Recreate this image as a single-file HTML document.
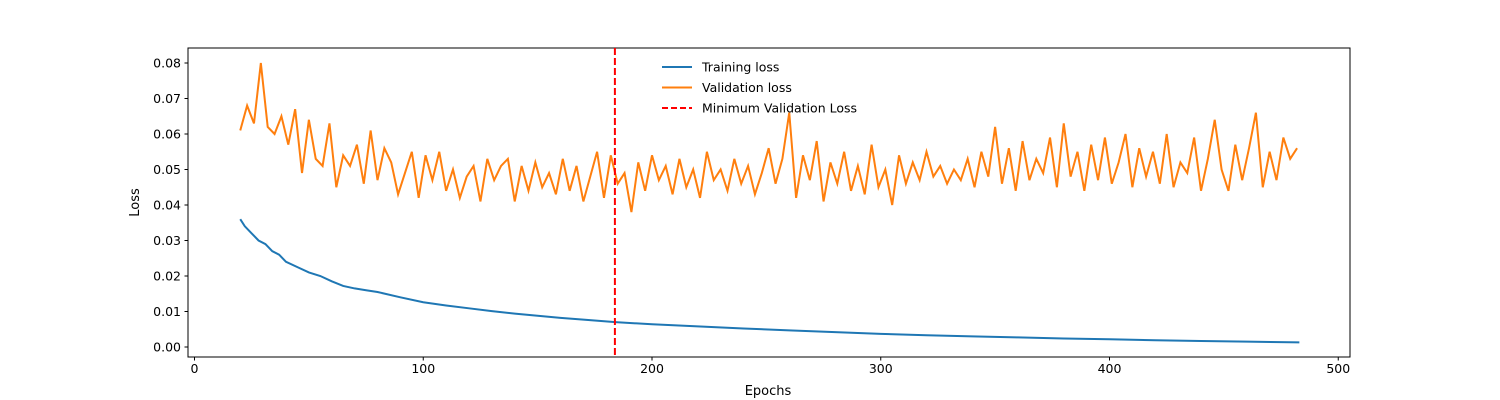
<!DOCTYPE html>
<html><head><meta charset="utf-8"><style>
html,body{margin:0;padding:0;background:#fff;}
svg{display:block;font-family:"DejaVu Sans","Liberation Sans",sans-serif;}
</style></head><body>
<svg id="chart" width="1500" height="400"></svg>
<script>
const valStart = 20, valStep = 3;
const valLoss = [61,68,63,80,62,60,65,57,67,49,64,53,51,63,45,54,51,57,46,61,47,
56,52,43,49,55,42,54,47,55,44,50,42,48,51,41,53,47,51,53,41,
51,44,52,45,49,43,53,44,51,41,48,55,42,54,46,49,38,52,44,54,
47,51,43,53,45,50,42,55,47,50,44,53,46,51,43,49,56,46,53,66,
42,54,47,58,41,52,46,55,44,51,43,57,45,50,40,54,46,52,47,55,
48,51,46,50,47,53,45,55,48,62,46,56,44,58,47,53,49,59,45,63,
48,55,44,57,47,59,46,52,60,45,56,48,55,46,60,45,52,49,59,44,
53,64,50,44,57,47,56,66,45,55,47,59,53,56].map(v=>v/1000);
const trainEpochs = [20,22,25,28,31,34,37,40,45,50,55,60,65,70,75,80,90,100,110,120,130,140,150,160,170,184,200,220,240,260,280,300,320,340,360,380,400,420,440,460,483];
const trainLoss = [0.036,0.034,0.032,0.030,0.029,0.027,0.026,0.024,0.0225,0.021,0.020,0.0185,0.0172,0.0165,0.016,0.0155,0.014,0.0126,0.0117,0.0109,0.0101,0.0094,0.0088,0.0082,0.0077,0.0070,0.0064,0.0058,0.0052,0.0047,0.0042,0.0037,0.0033,0.0030,0.0027,0.0024,0.0022,0.0019,0.0017,0.0015,0.0013];
const minEpoch = 184;
const xTicks = [0,100,200,300,400,500];
const yTicks = [0,0.01,0.02,0.03,0.04,0.05,0.06,0.07,0.08];

const L=188,R=1350,T=48,B=357;
const X=e=>194.5+e*2.2875;
const Y=v=>347-v*3550;
const svg=document.getElementById('chart');
const NS='http://www.w3.org/2000/svg';
function mk(t,a,p){const e=document.createElementNS(NS,t);for(const k in a)e.setAttribute(k,a[k]);(p||svg).appendChild(e);return e;}

const frame=mk('rect',{x:L,y:T,width:R-L,height:B-T,fill:'none',stroke:'#000','stroke-width':1});



xTicks.forEach(t=>{
  const l=mk('line',{x1:X(t),x2:X(t),y1:B,y2:B+3.5,stroke:'#000'});
  
  
  const tx=mk('text',{x:X(t),y:B+16,'text-anchor':'middle','font-size':12.5});
  tx.textContent=t;
  
  
});
yTicks.forEach(t=>{
  const l=mk('line',{x1:L-3.5,x2:L,y1:Y(t),y2:Y(t),stroke:'#000'});
  
  
  const tx=mk('text',{x:L-7,y:Y(t)+4.5,'text-anchor':'end','font-size':12.5});
  tx.textContent=t.toFixed(2);
  
  
});

const tp=mk('polyline',{points:trainEpochs.map((e,i)=>X(e)+','+Y(trainLoss[i])).join(' '),fill:'none',stroke:'#1f77b4','stroke-width':2});


const vp=mk('polyline',{points:valLoss.map((v,i)=>X(valStart+i*valStep)+','+Y(v)).join(' '),fill:'none',stroke:'#ff7f0e','stroke-width':2});


const ml=mk('line',{x1:X(minEpoch)-0.5,x2:X(minEpoch)-0.5,y1:T,y2:B,stroke:'#f00','stroke-width':2,'stroke-dasharray':'7,3'});



const xl=mk('text',{x:768,y:395,'text-anchor':'middle','font-size':13});
xl.textContent='Epochs';


const yl=mk('text',{x:139,y:(T+B)/2,'text-anchor':'middle','font-size':13,transform:'rotate(-90 139 '+((T+B)/2)+')'});
yl.textContent='Loss';



const leg=[['Training loss','#1f77b4',''],['Validation loss','#ff7f0e',''],['Minimum Validation Loss','#f00','6,3']];
leg.forEach((d,i)=>{
  const y=67+i*20.5;
  const l=mk('line',{x1:662,x2:692,y1:y,y2:y,stroke:d[1],'stroke-width':2,'stroke-dasharray':d[2]||'none'});
  
  
  const t=mk('text',{x:702,y:y+4.5,'font-size':12.5});
  t.textContent=d[0];
  
  
});
</script>
</body></html>
